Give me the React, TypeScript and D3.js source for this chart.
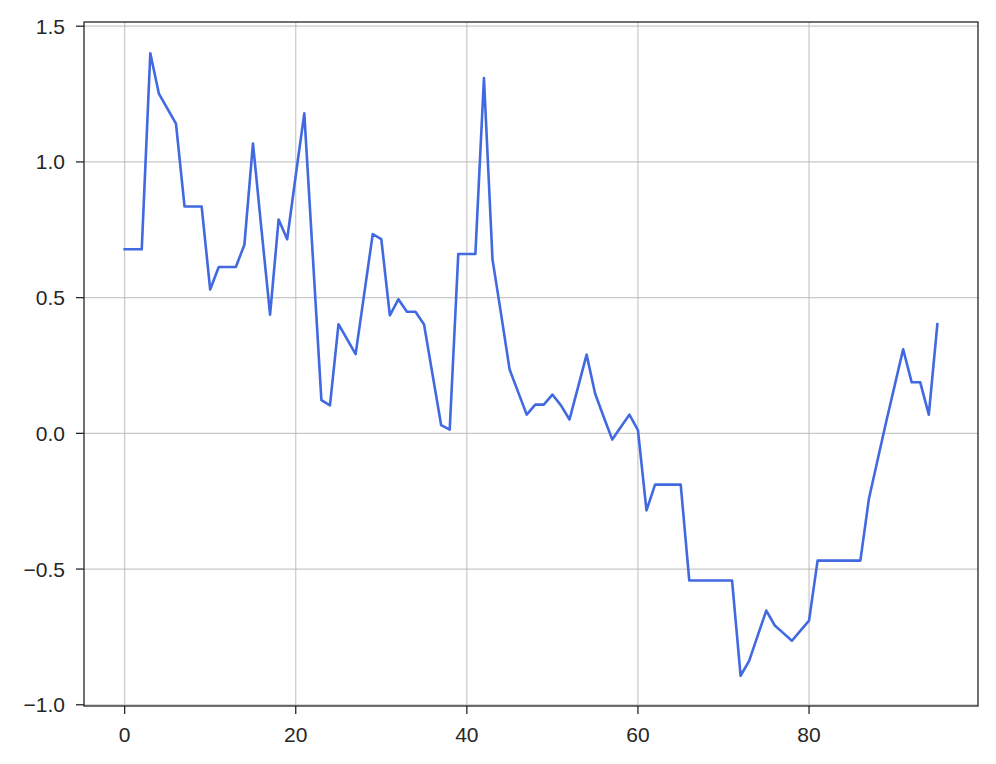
import React from "react";
import * as d3 from "d3";

const xIndex: number[] = Array.from({ length: 96 }, (_, i) => i);
const values: number[] = [
  0.678, 0.678, 0.678, 1.4, 1.252, 1.196, 1.141, 0.836, 0.836, 0.836,
  0.53, 0.613, 0.613, 0.613, 0.695, 1.068, 0.75, 0.437, 0.788, 0.715,
  0.95, 1.179, 0.65, 0.122, 0.103, 0.402, 0.347, 0.292, 0.513, 0.734,
  0.716, 0.435, 0.494, 0.448, 0.448, 0.401, 0.215, 0.03, 0.014, 0.661,
  0.661, 0.661, 1.309, 0.641, 0.44, 0.235, 0.152, 0.069, 0.106, 0.106,
  0.143, 0.103, 0.051, 0.17, 0.29, 0.146, 0.06, -0.023, 0.023, 0.069,
  0.012, -0.284, -0.189, -0.189, -0.189, -0.189, -0.542, -0.542, -0.542, -0.542,
  -0.542, -0.542, -0.893, -0.838, -0.745, -0.653, -0.708, -0.736, -0.764, -0.727,
  -0.69, -0.469, -0.469, -0.469, -0.469, -0.469, -0.469, -0.241, -0.1, 0.04,
  0.175, 0.31, 0.188, 0.188, 0.069, 0.402,
];
const xTicks: number[] = [0, 20, 40, 60, 80];
const yTicks: number[] = [-1.0, -0.5, 0.0, 0.5, 1.0, 1.5];

export default function App() {
  const W = 996, H = 764;
  const L = 84, R = 978, T = 22, B = 706;
  const x = d3.scaleLinear().domain([-4.75, 99.75]).range([L, R]);
  const y = d3.scaleLinear().domain([-1.0045, 1.5155]).range([B, T]);
  const line = d3
    .line<number>()
    .x((_, i) => x(xIndex[i]))
    .y((d) => y(d));
  const fmtY = (v: number) => (v < 0 ? "\u2212" : "") + Math.abs(v).toFixed(1);
  const font = "'Liberation Sans', Arial, sans-serif";
  return (
    <svg width={W} height={H} style={{ position: "absolute", left: 0, top: 0, background: "#fff" }}>
      <rect x={0} y={0} width={W} height={H} fill="#fff" />
      <g stroke="#b0b0b0" strokeOpacity={0.7} strokeWidth={1.2}>
        {xTicks.map((t) => (
          <line key={"gx" + t} x1={x(t)} x2={x(t)} y1={T} y2={B} />
        ))}
        {yTicks.map((t) => (
          <line key={"gy" + t} x1={L} x2={R} y1={y(t)} y2={y(t)} />
        ))}
      </g>
      <path d={line(values) || ""} fill="none" stroke="#4169E1" strokeWidth={2.6} strokeLinejoin="round" strokeLinecap="square" />
      <rect x={L} y={T} width={R - L} height={B - T} fill="none" stroke="#262626" strokeWidth={1.3} />
      <g stroke="#262626" strokeWidth={1.3}>
        {xTicks.map((t) => (
          <line key={"tx" + t} x1={x(t)} x2={x(t)} y1={B} y2={B + 8} />
        ))}
        {yTicks.map((t) => (
          <line key={"ty" + t} x1={L - 8} x2={L} y1={y(t)} y2={y(t)} />
        ))}
      </g>
      <g fontFamily={font} fontSize={21} fill="#262626">
        {xTicks.map((t) => (
          <text key={"lx" + t} x={x(t)} y={B + 36} textAnchor="middle">
            {String(t)}
          </text>
        ))}
        {yTicks.map((t) => (
          <text key={"ly" + t} x={L - 19} y={y(t)} dy="0.36em" textAnchor="end">
            {fmtY(t)}
          </text>
        ))}
      </g>
    </svg>
  );
}
